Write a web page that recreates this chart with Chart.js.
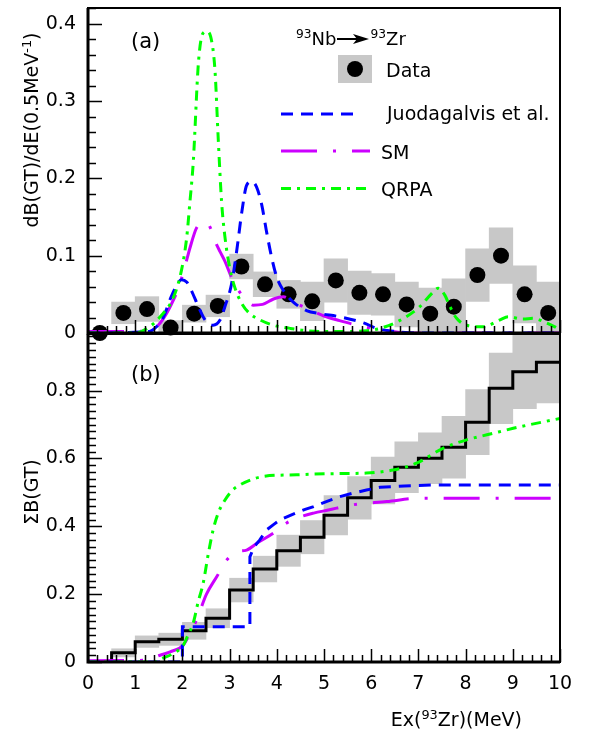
<!DOCTYPE html>
<html><head><meta charset="utf-8">
<script src="https://cdn.jsdelivr.net/npm/chart.js@4.4.1/dist/chart.umd.min.js"></script>
<style>
html,body{margin:0;padding:0;background:#fff;}
body{width:590px;height:730px;position:relative;overflow:hidden;font-family:"DejaVu Sans",sans-serif;color:#000;}
.cw{position:absolute;left:0;width:590px;}
#topWrap{top:0;height:345px;z-index:2;}
#botWrap{top:320px;height:410px;z-index:1;}
.t{position:absolute;white-space:nowrap;line-height:1;z-index:3;font-family:"DejaVu Sans",sans-serif;}
.t sup{font-size:0.68em;position:relative;top:-0.55em;vertical-align:baseline;line-height:0;}
.rot{transform:translate(-50%,-50%) rotate(-90deg);}
</style></head><body>
<div id="botWrap" class="cw"><canvas id="botChart" width="590" height="410"></canvas></div>
<div id="topWrap" class="cw"><canvas id="topChart" width="590" height="345"></canvas></div>
<div class="t rot" style="left:31px;top:130px;font-size:19px;">dB(GT)/dE(0.5MeV<sup>-1</sup>)</div>
<div class="t rot" style="left:31px;top:492px;font-size:19px;">ΣB(GT)</div>
<div class="t" style="right:68px;top:710px;font-size:19px;">Ex(<sup>93</sup>Zr)(MeV)</div>
<div class="t" style="left:131px;top:31px;font-size:21px;">(a)</div>
<div class="t" style="left:131px;top:364px;font-size:21px;">(b)</div>
<div class="t" style="left:296px;top:30px;font-size:18px;"><sup>93</sup>Nb<svg width="32" height="12" style="vertical-align:0px;margin:0 1px"><line x1="0" y1="6" x2="22" y2="6" stroke="#000" stroke-width="2"/><polygon points="16,1 32,6 16,11 20,6" fill="#000"/></svg><sup>93</sup>Zr</div>
<script>
// ---------- data ----------
const xTicks = [0, 1, 2, 3, 4, 5, 6, 7, 8, 9, 10];
const topYTicks = [0, 0.1, 0.2, 0.3, 0.4];
const botYTicks = [0, 0.2, 0.4, 0.6, 0.8];

// panel (a): measured dB(GT)/dE per 0.5 MeV bin
const binCenters = [0.25, 0.75, 1.25, 1.75, 2.25, 2.75, 3.25, 3.75, 4.25, 4.75, 5.25, 5.75, 6.25, 6.75, 7.25, 7.75, 8.25, 8.75, 9.25, 9.75];
const dataVals = [0.000, 0.026, 0.031, 0.007, 0.025, 0.035, 0.086, 0.063, 0.050, 0.041, 0.068, 0.052, 0.050, 0.037, 0.025, 0.034, 0.075, 0.100, 0.050, 0.026];
const dataErr  = [0.000, 0.014, 0.016, 0.009, 0.011, 0.014, 0.016, 0.016, 0.018, 0.025, 0.028, 0.028, 0.027, 0.029, 0.033, 0.036, 0.034, 0.036, 0.037, 0.040];

// panel (b): running sum of the data
const binLow = [0, 0.5, 1, 1.5, 2, 2.5, 3, 3.5, 4, 4.5, 5, 5.5, 6, 6.5, 7, 7.5, 8, 8.5, 9, 9.5];
const binWidth = 0.5;
const sumVals = [0.000, 0.027, 0.060, 0.067, 0.092, 0.129, 0.212, 0.274, 0.328, 0.368, 0.433, 0.484, 0.535, 0.574, 0.601, 0.633, 0.707, 0.807, 0.856, 0.884];
const sumErr  = [0.000, 0.012, 0.017, 0.018, 0.025, 0.028, 0.035, 0.038, 0.046, 0.049, 0.058, 0.063, 0.069, 0.075, 0.075, 0.091, 0.096, 0.104, 0.109, 0.120];

// panel (a) theory curves
const juoX = [0, 1.3, 1.45, 1.6, 1.75, 1.9, 1.98, 2.09, 2.19, 2.34, 2.48, 2.65, 2.8, 2.9, 3.04, 3.15, 3.26, 3.36, 3.47, 3.57, 3.68, 3.78, 3.89, 4.0, 4.14, 4.35, 4.63, 4.92, 5.33, 5.84, 6.12, 6.5, 7.0, 10];
const juoY = [0, 0.002, 0.008, 0.021, 0.045, 0.064, 0.069, 0.066, 0.055, 0.034, 0.017, 0.010, 0.017, 0.034, 0.063, 0.106, 0.157, 0.191, 0.196, 0.189, 0.166, 0.132, 0.098, 0.072, 0.055, 0.040, 0.029, 0.025, 0.021, 0.013, 0.006, 0.002, 0, 0];
const smX = [0, 0.8, 1.2, 1.45, 1.6, 1.74, 1.91, 2.05, 2.16, 2.3, 2.42, 2.51, 2.6, 2.69, 2.8, 2.9, 3.04, 3.19, 3.35, 3.5, 3.7, 3.93, 4.14, 4.35, 4.63, 5.0, 5.33, 5.84, 6.3, 6.8, 10];
const smY = [0.002, 0.002, 0.003, 0.008, 0.019, 0.034, 0.057, 0.085, 0.110, 0.136, 0.142, 0.143, 0.135, 0.119, 0.105, 0.093, 0.072, 0.055, 0.043, 0.036, 0.037, 0.044, 0.047, 0.040, 0.032, 0.022, 0.016, 0.008, 0.003, 0, 0];
const qrpaX = [0, 1.0, 1.3, 1.53, 1.81, 1.98, 2.09, 2.16, 2.23, 2.34, 2.44, 2.52, 2.6, 2.69, 2.76, 2.83, 2.9, 3.0, 3.11, 3.26, 3.43, 3.64, 3.93, 4.28, 4.63, 5.0, 5.5, 5.9, 6.19, 6.6, 7.03, 7.28, 7.42, 7.56, 7.67, 7.81, 8.02, 8.37, 8.73, 8.9, 9.22, 9.43, 9.68, 9.89, 10];
const qrpaY = [0, 0, 0.008, 0.021, 0.046, 0.081, 0.123, 0.170, 0.221, 0.350, 0.388, 0.390, 0.383, 0.340, 0.250, 0.170, 0.125, 0.085, 0.059, 0.038, 0.025, 0.017, 0.010, 0.006, 0.003, 0.002, 0.002, 0.003, 0.006, 0.016, 0.034, 0.051, 0.058, 0.049, 0.034, 0.019, 0.010, 0.008, 0.017, 0.021, 0.018, 0.019, 0.014, 0.008, 0.004];

// panel (b) theory running sums
const juoSumX = [0, 2.0, 2.0, 3.43, 3.43, 3.52, 3.64, 3.79, 3.93, 4.07, 4.25, 4.42, 4.6, 4.78, 5.05, 5.3, 5.62, 5.9, 6.19, 6.7, 7.31, 10];
const juoSumY = [0, 0, 0.104, 0.104, 0.31, 0.34, 0.36, 0.39, 0.405, 0.419, 0.43, 0.44, 0.45, 0.458, 0.473, 0.486, 0.498, 0.507, 0.515, 0.519, 0.522, 0.522];
const smSumX = [0, 1.2, 1.53, 1.74, 2.02, 2.16, 2.3, 2.51, 2.73, 2.94, 3.15, 3.36, 3.6, 3.93, 4.21, 4.5, 4.78, 5.09, 5.59, 6.33, 7.03, 10];
const smSumY = [0.004, 0.005, 0.02, 0.03, 0.05, 0.085, 0.124, 0.2, 0.252, 0.301, 0.325, 0.33, 0.352, 0.38, 0.41, 0.428, 0.439, 0.448, 0.463, 0.473, 0.483, 0.483];
const qrpaSumX = [0, 1.4, 1.56, 1.8, 2.02, 2.12, 2.23, 2.33, 2.44, 2.55, 2.65, 2.76, 2.86, 3.05, 3.22, 3.45, 3.71, 4.42, 5.05, 5.9, 6.46, 6.96, 7.52, 8.02, 8.52, 9.01, 9.44, 10];
const qrpaSumY = [0, 0, 0.01, 0.025, 0.05, 0.08, 0.115, 0.175, 0.232, 0.32, 0.389, 0.44, 0.468, 0.505, 0.522, 0.537, 0.547, 0.552, 0.555, 0.557, 0.566, 0.586, 0.63, 0.655, 0.672, 0.689, 0.702, 0.718];

const legendLabels = ['Juodagalvis et al.', 'SM', 'QRPA'];

// ---------- styles ----------
const COL = {juo: '#0000ff', sm: '#cc00ff', qrpa: '#00ff00', box: '#c8c8c8', data: '#000000'};
const DASH = {juo: [12, 8], sm: [36, 16, 3, 16], qrpa: [10, 6, 3, 6]};

Chart.defaults.font.family = '"DejaVu Sans", sans-serif';
Chart.defaults.color = '#000';

function pts(xs, ys) { return xs.map((x, i) => ({x: x, y: ys[i]})); }

function curve(label, xs, ys, color, dash, order, smooth) {
  return {
    type: 'line', label: label, data: pts(xs, ys),
    borderColor: color, borderDash: dash, borderWidth: 3, borderCapStyle: 'butt',
    pointRadius: 0, fill: false, order: order,
    tension: smooth ? 0.4 : 0,
    cubicInterpolationMode: smooth ? 'monotone' : 'default'
  };
}

const frameTicks = {
  id: 'frameTicks',
  afterDatasetsDraw(chart, args, opts) {
    const ctx = chart.ctx, a = chart.chartArea, x = chart.scales.x, y = chart.scales.y;
    ctx.save();
    ctx.strokeStyle = '#000';
    ctx.setLineDash([]);
    ctx.lineWidth = 1.5;
    ctx.beginPath();
    const nx = Math.floor((x.max - x.min) / opts.xMinor + 1e-6);
    for (let i = 0; i <= nx; i++) {
      const v = x.min + i * opts.xMinor;
      const major = opts.xMajor.some(m => Math.abs(m - v) < 1e-6);
      const px = Math.round(x.getPixelForValue(v)) + 0.5;
      ctx.moveTo(px, a.bottom);
      ctx.lineTo(px, a.bottom - (major ? 13 : 7));
    }
    const ny = Math.floor((y.max - y.min) / opts.yMinor + 1e-6);
    for (let i = 0; i <= ny; i++) {
      const v = y.min + i * opts.yMinor;
      const major = opts.yMajor.some(m => Math.abs(m - v) < 1e-6);
      const py = Math.round(y.getPixelForValue(v)) + 0.5;
      ctx.moveTo(a.left, py);
      ctx.lineTo(a.left + (major ? 14 : 8), py);
    }
    ctx.stroke();
    ctx.lineWidth = 2;
    ctx.strokeRect(a.left, a.top, a.right - a.left, a.bottom - a.top);
    ctx.lineWidth = 3;
    ctx.beginPath();
    ctx.moveTo(a.left, a.top);
    ctx.lineTo(a.left, a.bottom);
    ctx.lineTo(a.right, a.bottom);
    ctx.stroke();
    ctx.restore();
  }
};

const legendBox = {
  id: 'legendBox',
  afterDraw(chart) {
    const ctx = chart.ctx;
    ctx.save();
    ctx.fillStyle = COL.box;
    ctx.fillRect(338, 55, 34, 28);
    ctx.fillStyle = COL.data;
    ctx.beginPath();
    ctx.arc(355, 69, 8, 0, 2 * Math.PI);
    ctx.fill();
    ctx.font = '19px "DejaVu Sans"';
    ctx.textBaseline = 'alphabetic';
    ctx.fillText('Data', 386, 77);
    const rows = [
      {ds: chart.data.datasets.find(d => d.label === legendLabels[0]), x0: 281, x1: 360, y: 114, tx: 387, ty: 120},
      {ds: chart.data.datasets.find(d => d.label === legendLabels[1]), x0: 281, x1: 370, y: 151, tx: 381, ty: 159},
      {ds: chart.data.datasets.find(d => d.label === legendLabels[2]), x0: 281, x1: 370, y: 188.5, tx: 381, ty: 196}
    ];
    rows.forEach(r => {
      ctx.strokeStyle = r.ds.borderColor;
      ctx.lineWidth = r.ds.borderWidth;
      ctx.setLineDash(r.ds.borderDash);
      ctx.beginPath();
      ctx.moveTo(r.x0, r.y);
      ctx.lineTo(r.x1, r.y);
      ctx.stroke();
      ctx.setLineDash([]);
      ctx.fillStyle = '#000';
      ctx.fillText(r.ds.label, r.tx, r.ty);
    });
    ctx.restore();
  }
};

function makeOptions(cfg) {
  return {
    responsive: false, animation: false, events: [],
    layout: {padding: cfg.padding},
    plugins: {
      legend: {display: false}, tooltip: {enabled: false},
      frameTicks: {xMinor: 0.2, yMinor: 0.02, xMajor: xTicks, yMajor: cfg.yTicks}
    },
    scales: {
      x: {
        type: 'linear', min: 0, max: 10, offset: false, display: cfg.showX,
        grid: {display: false, drawTicks: false}, border: {display: false},
        ticks: {font: {size: 19}, padding: 11, maxRotation: 0, autoSkip: false, callback: v => String(v)},
        afterBuildTicks: s => { s.ticks = xTicks.map(v => ({value: v})); },
        afterFit: s => { s.height = cfg.xHeight; s.paddingLeft = 0; s.paddingRight = 0; }
      },
      y: {
        type: 'linear', min: cfg.yMin, max: cfg.yMax,
        grid: {display: false, drawTicks: false}, border: {display: false},
        ticks: {font: {size: 19}, padding: 12, autoSkip: false, callback: v => String(v)},
        afterBuildTicks: s => { s.ticks = cfg.yTicks.map(v => ({value: v})); },
        afterFit: s => { s.width = 88; s.paddingTop = 0; s.paddingBottom = 0; }
      }
    }
  };
}

// ---------- top panel ----------
new Chart(document.getElementById('topChart'), {
  type: 'line',
  data: {
    datasets: [
      {type: 'bar', label: 'box', data: binCenters.map((x, i) => ({x: x, y: [dataVals[i] - dataErr[i], dataVals[i] + dataErr[i]]})),
       backgroundColor: COL.box, borderWidth: 0, barPercentage: 1, categoryPercentage: 1, grouped: false, order: 10},
      {type: 'line', label: 'Data', data: pts(binCenters, dataVals), showLine: false,
       pointRadius: 8, pointBackgroundColor: COL.data, pointBorderColor: COL.data, pointBorderWidth: 0, clip: false, order: 5},
      curve(legendLabels[1], smX, smY, COL.sm, DASH.sm, 3, true),
      curve(legendLabels[0], juoX, juoY, COL.juo, DASH.juo, 2, true),
      curve(legendLabels[2], qrpaX, qrpaY, COL.qrpa, DASH.qrpa, 1, true)
    ]
  },
  options: makeOptions({padding: {left: 0, right: 30, top: 4, bottom: 12}, showX: false, xHeight: 0,
                        yMin: 0, yMax: 0.4204, yTicks: topYTicks}),
  plugins: [frameTicks, legendBox]
});

// ---------- bottom panel ----------
const stepData = pts(binLow, sumVals);
stepData.push({x: binLow[binLow.length - 1] + binWidth, y: sumVals[sumVals.length - 1]});

new Chart(document.getElementById('botChart'), {
  type: 'line',
  data: {
    datasets: [
      {type: 'bar', label: 'sumbox', data: binLow.map((x, i) => ({x: x + binWidth / 2, y: [sumVals[i] - sumErr[i], sumVals[i] + sumErr[i]]})),
       backgroundColor: COL.box, borderWidth: 0, barPercentage: 1, categoryPercentage: 1, grouped: false, order: 10},
      {type: 'line', label: 'DataSum', data: stepData, stepped: true, borderColor: '#000', borderWidth: 3,
       pointRadius: 0, fill: false, order: 5},
      curve('SMsum', smSumX, smSumY, COL.sm, DASH.sm, 3, true),
      curve('Juosum', juoSumX, juoSumY, COL.juo, DASH.juo, 2, false),
      curve('QRPAsum', qrpaSumX, qrpaSumY, COL.qrpa, DASH.qrpa, 1, true)
    ]
  },
  options: makeOptions({padding: {left: 0, right: 30, top: 14, bottom: 0}, showX: true, xHeight: 68,
                        yMin: 0, yMax: 0.967, yTicks: botYTicks}),
  plugins: [frameTicks]
});
</script>
</body></html>
